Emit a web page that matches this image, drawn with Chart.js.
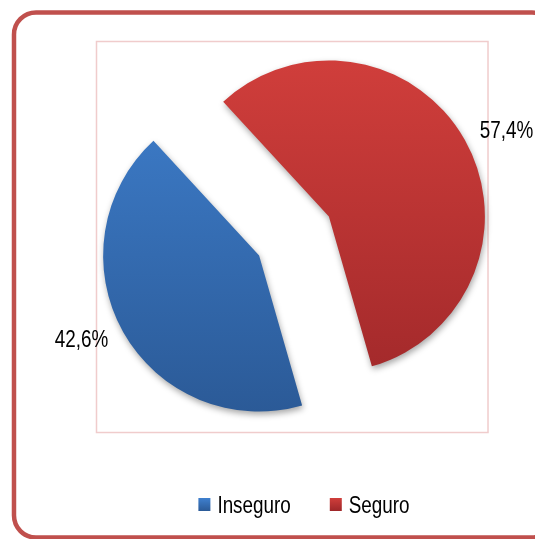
<!DOCTYPE html>
<html>
<head>
<meta charset="utf-8">
<script src="https://cdn.jsdelivr.net/npm/chart.js@4.4.0/dist/chart.umd.min.js"></script>
<style>
  html, body { margin: 0; padding: 0; background: #fff; }
  #wrap { width: 535px; height: 539px; overflow: hidden; }
</style>
</head>
<body>
<div id="wrap"><canvas id="pieChart" width="535" height="539"></canvas></div>
<script>
// data
const categories = ["Inseguro", "Seguro"];
const shares = [42.6, 57.4];

// colours (top / bottom of the vertical gradient)
const topColors = ["#3f80cf", "#d03e3b"];
const bottomColors = ["#2b5a97", "#9e2729"];

// Arial Narrow look: Liberation Sans squeezed horizontally
const FONT = "23px 'Liberation Sans', Arial, sans-serif";
const NARROW = 0.82;

function pctText(v) {
  return v.toFixed(1).replace(".", ",") + "%";
}

function narrowWidth(ctx, text) {
  return ctx.measureText(text).width * NARROW;
}

function drawNarrow(ctx, text, x, y, align) {
  const w = narrowWidth(ctx, text);
  const x0 = align === "right" ? x - w : align === "center" ? x - w / 2 : x;
  ctx.save();
  ctx.translate(x0, y);
  ctx.scale(NARROW, 1);
  ctx.textAlign = "left";
  ctx.fillText(text, 0, 0);
  ctx.restore();
}

function vGradient(ctx, i, y0, y1) {
  const g = ctx.createLinearGradient(0, y0, 0, y1);
  g.addColorStop(0, topColors[i]);
  g.addColorStop(1, bottomColors[i]);
  return g;
}

// rounded outer frame + light plot-area box
const framePlugin = {
  id: "frame",
  beforeDraw(chart) {
    const ctx = chart.ctx;
    ctx.save();
    ctx.fillStyle = "#fff";
    ctx.fillRect(0, 0, chart.width, chart.height);
    ctx.strokeStyle = "#c0504d";
    ctx.lineWidth = 4.5;
    ctx.beginPath();
    ctx.roundRect(14, 12.5, 540, 525, 22);
    ctx.stroke();
    ctx.strokeStyle = "#f0cccc";
    ctx.lineWidth = 1.5;
    ctx.strokeRect(96.5, 41.5, 391.5, 391);
    ctx.restore();
  }
};

// pull every slice out along its bisector (exploded pie)
const explodePlugin = {
  id: "explode",
  afterDatasetUpdate(chart, args, opts) {
    args.meta.data.forEach((arc) => {
      const mid = (arc.startAngle + arc.endAngle) / 2;
      arc.x += Math.cos(mid) * opts.distance;
      arc.y += Math.sin(mid) * opts.distance;
    });
  }
};

// soft drop shadow under the slices, then outside-end labels
const shadowLabelPlugin = {
  id: "shadowLabels",
  beforeDatasetsDraw(chart) {
    const ctx = chart.ctx;
    ctx.save();
    ctx.shadowColor = "rgba(0,0,0,0.35)";
    ctx.shadowBlur = 6;
    ctx.shadowOffsetX = 1;
    ctx.shadowOffsetY = 3;
  },
  afterDatasetsDraw(chart) {
    const ctx = chart.ctx;
    ctx.restore();
    ctx.save();
    ctx.font = FONT;
    ctx.fillStyle = "#000";
    ctx.textBaseline = "middle";
    chart.getDatasetMeta(0).data.forEach((arc, i) => {
      const mid = (arc.startAngle + arc.endAngle) / 2;
      const r = arc.outerRadius + 17;
      const x = arc.x + Math.cos(mid) * r;
      const y = arc.y + Math.sin(mid) * r;
      drawNarrow(ctx, pctText(shares[i]), x, y, Math.cos(mid) >= 0 ? "left" : "right");
    });
    ctx.restore();
  }
};

// legend under the plot
const legendPlugin = {
  id: "bottomLegend",
  afterDraw(chart, args, opts) {
    const ctx = chart.ctx;
    ctx.save();
    ctx.font = FONT;
    ctx.textBaseline = "alphabetic";
    const box = 12, gap = 7, itemGap = 39;
    const widths = categories.map((t) => narrowWidth(ctx, t));
    const total = widths.reduce((s, w) => s + box + gap + w, 0) + itemGap * (categories.length - 1);
    let x = opts.centerX - total / 2;
    categories.forEach((t, i) => {
      ctx.fillStyle = vGradient(ctx, i, opts.baseline - 15, opts.baseline - 2);
      ctx.fillRect(x, opts.baseline - 15, box, box + 1);
      x += box + gap;
      ctx.fillStyle = "#000";
      drawNarrow(ctx, t, x, opts.baseline, "left");
      x += widths[i] + itemGap;
    });
    ctx.restore();
  }
};

const ctx = document.getElementById("pieChart").getContext("2d");

new Chart(ctx, {
  type: "pie",
  data: {
    labels: categories,
    datasets: [
      {
        data: shares,
        borderWidth: 0,
        backgroundColor: (c) => {
          const area = c.chart.chartArea;
          if (!area) return topColors[c.dataIndex];
          return vGradient(c.chart.ctx, c.dataIndex, area.top - 20, area.bottom + 20);
        },
      },
    ],
  },
  options: {
    responsive: false,
    animation: false,
    events: [],
    rotation: 164,
    radius: 156,
    layout: {
      padding: { left: 138, right: 85, top: 80, bottom: 147 },
    },
    plugins: {
      legend: { display: false },
      tooltip: { enabled: false },
      explode: { distance: 40 },
      bottomLegend: { centerX: 304, baseline: 513 },
    },
  },
  plugins: [framePlugin, explodePlugin, shadowLabelPlugin, legendPlugin],
});
</script>
</body>
</html>
